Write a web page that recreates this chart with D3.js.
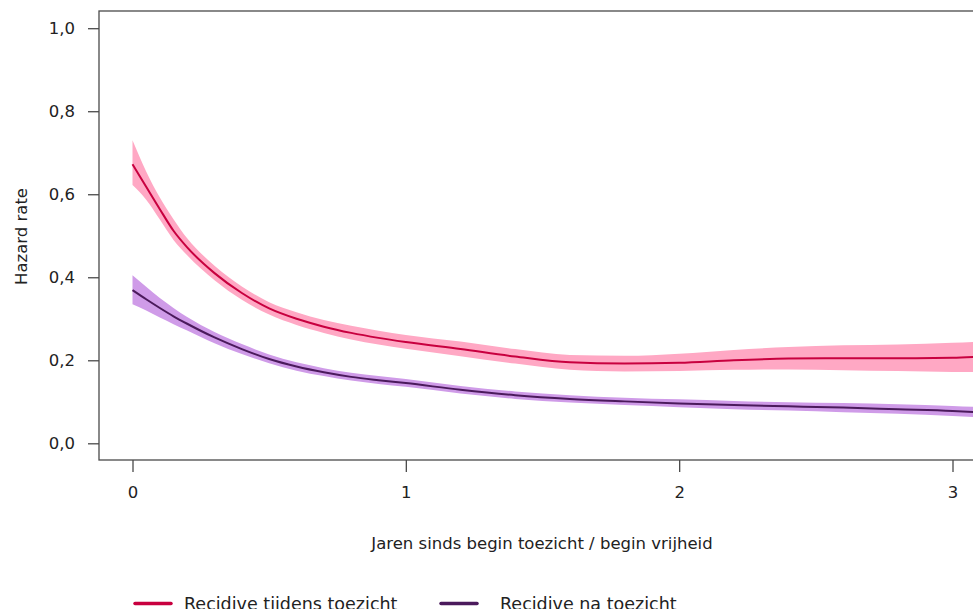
<!DOCTYPE html>
<html>
<head>
<meta charset="utf-8">
<script src="https://cdn.jsdelivr.net/npm/d3@7"></script>
<style>
  html, body { margin: 0; padding: 0; background: #fff; }
  svg { display: block; }
  text { font-family: "DejaVu Sans", sans-serif; fill: #222; }
</style>
</head>
<body>
<svg id="chart" width="973" height="609"></svg>
<script>
// ---- Data ----
const years = [0, 0.05, 0.1, 0.15, 0.2, 0.3, 0.4, 0.5, 0.6, 0.7, 0.8, 0.9, 1.0,
  1.2, 1.4, 1.6, 1.8, 2.0, 2.2, 2.4, 2.6, 2.8, 3.0, 3.08];

const tijdensValues = [0.672, 0.618, 0.564, 0.512, 0.472, 0.410, 0.362, 0.325, 0.300, 0.281, 0.266, 0.254, 0.244,
  0.227, 0.209, 0.195, 0.192, 0.194, 0.200, 0.204, 0.205, 0.205, 0.206, 0.208];
const tijdensLower = [0.622, 0.587, 0.539, 0.490, 0.453, 0.393, 0.346, 0.310, 0.285, 0.266, 0.250, 0.238, 0.228,
  0.210, 0.192, 0.177, 0.173, 0.174, 0.177, 0.178, 0.176, 0.174, 0.172, 0.172];
const tijdensUpper = [0.730, 0.655, 0.592, 0.540, 0.494, 0.428, 0.378, 0.340, 0.316, 0.297, 0.283, 0.271, 0.261,
  0.245, 0.227, 0.213, 0.211, 0.216, 0.225, 0.232, 0.236, 0.238, 0.242, 0.244];

const naValues = [0.369, 0.347, 0.326, 0.306, 0.288, 0.255, 0.227, 0.203, 0.185, 0.171, 0.160, 0.152, 0.145,
  0.129, 0.116, 0.107, 0.101, 0.096, 0.092, 0.089, 0.086, 0.082, 0.078, 0.075];
const naLower = [0.335, 0.320, 0.303, 0.287, 0.272, 0.241, 0.215, 0.193, 0.175, 0.162, 0.151, 0.143, 0.136,
  0.120, 0.107, 0.098, 0.092, 0.087, 0.082, 0.079, 0.075, 0.071, 0.066, 0.063];
const naUpper = [0.405, 0.377, 0.350, 0.326, 0.304, 0.268, 0.239, 0.214, 0.195, 0.181, 0.170, 0.162, 0.155,
  0.138, 0.125, 0.116, 0.110, 0.106, 0.102, 0.099, 0.097, 0.094, 0.090, 0.088];

const yTicks = [0, 0.2, 0.4, 0.6, 0.8, 1.0];
const xTicks = [0, 1, 2, 3];
const seriesNames = ["Recidive tijdens toezicht", "Recidive na toezicht"];
const xTitle = "Jaren sinds begin toezicht / begin vrijheid";
const yTitle = "Hazard rate";

// ---- Styles ----
const lineColors = ["#c8003f", "#4b1a5c"];
const bandColors = ["#ffa8c4", "#cf9be8"];

const svg = d3.select("#chart");

const x = d3.scaleLinear().domain([0, 3]).range([132.5, 952.5]);
const y = d3.scaleLinear().domain([0, 1]).range([443.3, 28.2]);

const box = { left: 99, top: 11, bottom: 460, right: 1010 };

const series = [
  { vals: tijdensValues, lo: tijdensLower, hi: tijdensUpper },
  { vals: naValues, lo: naLower, hi: naUpper }
].map((s, k) => ({
  color: lineColors[k], band: bandColors[k],
  pts: years.map((t, i) => ({ t, v: s.vals[i], lo: s.lo[i], hi: s.hi[i] }))
}));

const area = d3.area().x(d => x(d.t)).y0(d => y(d.lo)).y1(d => y(d.hi)).curve(d3.curveMonotoneX);
const line = d3.line().x(d => x(d.t)).y(d => y(d.v)).curve(d3.curveMonotoneX);

// bands first, then lines
series.forEach(s => {
  svg.append("path").datum(s.pts).attr("d", area).attr("fill", s.band).attr("stroke", "none");
});
series.forEach(s => {
  svg.append("path").datum(s.pts).attr("d", line).attr("fill", "none")
    .attr("stroke", s.color).attr("stroke-width", 2);
});

// plot box
svg.append("rect")
  .attr("x", box.left).attr("y", box.top)
  .attr("width", box.right - box.left).attr("height", box.bottom - box.top)
  .attr("fill", "none").attr("stroke", "#4a4a4a").attr("stroke-width", 1.3);

// y axis
const yAxis = d3.axisLeft(y).tickValues(yTicks).tickSize(11).tickPadding(13)
  .tickFormat(d => d3.format(".1f")(d).replace(".", ","));
const gy = svg.append("g").attr("transform", `translate(${box.left},0)`).call(yAxis);
gy.select(".domain").remove();
gy.selectAll(".tick line").attr("stroke", "#4a4a4a").attr("stroke-width", 1.3);
gy.selectAll(".tick text").attr("font-size", 16.5).attr("font-family", "DejaVu Sans").attr("fill", "#222");

// x axis
const xAxis = d3.axisBottom(x).tickValues(xTicks).tickSize(12).tickPadding(14).tickFormat(d3.format("d"));
const gx = svg.append("g").attr("transform", `translate(0,${box.bottom})`).call(xAxis);
gx.select(".domain").remove();
gx.selectAll(".tick line").attr("stroke", "#4a4a4a").attr("stroke-width", 1.3);
gx.selectAll(".tick text").attr("font-size", 16.5).attr("font-family", "DejaVu Sans").attr("fill", "#222");

// axis titles
svg.append("text").attr("x", 542).attr("y", 549).attr("text-anchor", "middle")
  .attr("font-size", 16.5).text(xTitle);
svg.append("text").attr("transform", "translate(26.5,236.5) rotate(-90)").attr("text-anchor", "middle")
  .attr("font-size", 16.5).text(yTitle);

// legend
const legendX = [135, 441];
const legendTextX = [184, 500];
seriesNames.forEach((name, k) => {
  svg.append("line").attr("x1", legendX[k]).attr("x2", legendX[k] + 36)
    .attr("y1", 603.5).attr("y2", 603.5)
    .attr("stroke", lineColors[k]).attr("stroke-width", 3.5).attr("stroke-linecap", "round");
  svg.append("text").attr("x", legendTextX[k]).attr("y", 609.5)
    .attr("font-size", 17.5).text(name);
});
</script>
</body>
</html>
